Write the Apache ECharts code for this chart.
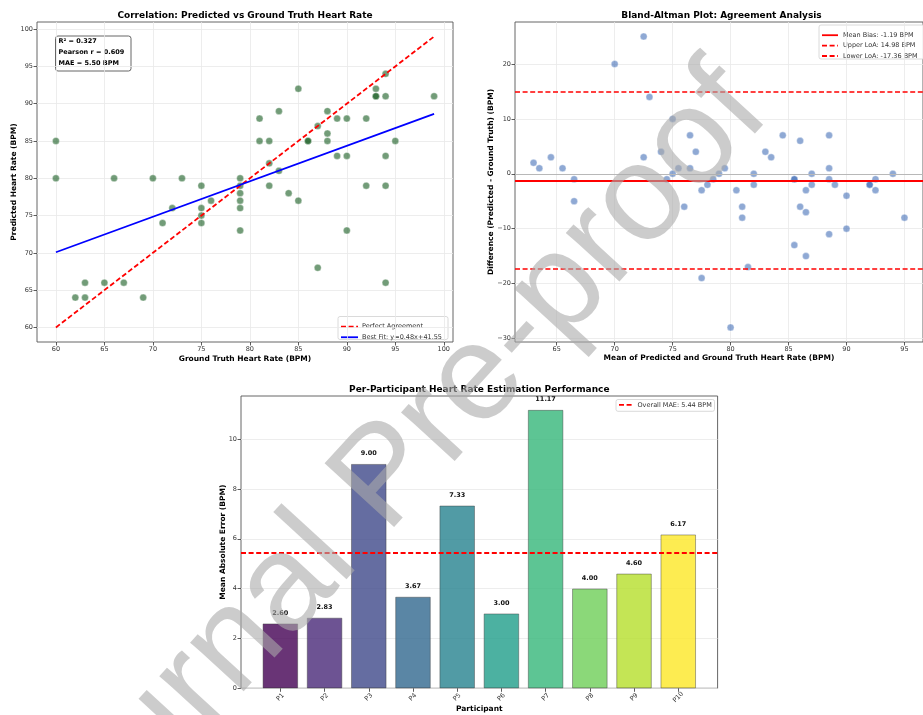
<!DOCTYPE html>
<html><head><meta charset="utf-8">
<script src="https://cdn.jsdelivr.net/npm/echarts@6/dist/echarts.min.js"></script>
<style>html,body{margin:0;padding:0;background:#fff}#c{width:923px;height:715px}</style>
</head><body><div id="c"></div>
<script>
// ---------------- data ----------------
const groundTruth = [60,60,66,70,73,79,85,81,81,82,82,83,83,86,86,87,88,88,88,89,89,90,90,92,93,93,93,94,94,94,95,99,75,79,79,79,79,79,72,71,75,75,75,76,82,84,85,92,94,90,87,94,62,63,63,65,67,69];
const predicted   = [85,80,80,80,80,80,92,88,85,85,82,89,81,85,85,87,89,86,85,88,83,88,83,88,92,91,91,94,91,83,85,91,79,79,78,77,76,73,76,74,76,75,74,77,79,78,77,79,79,73,68,66,64,66,64,66,66,64];
const fitSlope = 0.4756;
const fitIntercept = 41.55;
const fitRange = [60, 99];
const fitLabel = 'Best Fit: y=0.48x+41.55';
const statsLines = ['R\u00B2 = 0.327', 'Pearson r = 0.609', 'MAE = 5.50 BPM'];
const meanBias = -1.19;
const upperLoA = 14.98;
const lowerLoA = -17.36;
const participants = ['P1','P2','P3','P4','P5','P6','P7','P8','P9','P10'];
const participantMAE = [2.60, 2.83, 9.00, 3.67, 7.33, 3.00, 11.17, 4.00, 4.60, 6.17];
const overallMAE = 5.44;
const scatterTicks = [60,65,70,75,80,85,90,95,100];
const baXTicks = [65,70,75,80,85,90,95];
const baYTicks = [-30,-20,-10,0,10,20];
const barYTicks = [0,2,4,6,8,10];

// ---------------- styles ----------------
const FONT = 'DejaVu Sans';
const viridis = ['rgba(68,1,84,0.8)','rgba(72,40,120,0.8)','rgba(62,73,137,0.8)','rgba(49,104,142,0.8)','rgba(38,130,142,0.8)','rgba(31,158,137,0.8)','rgba(53,183,121,0.8)','rgba(110,206,88,0.8)','rgba(181,222,43,0.8)','rgba(253,231,37,0.8)'];
const DASH = [5, 2.6];

const baMean = groundTruth.map((g, i) => (g + predicted[i]) / 2);
const baDiff = groundTruth.map((g, i) => predicted[i] - g);

const G0 = {left: 37, top: 22, width: 416, height: 320};
const G1 = {left: 515, top: 22, width: 413, height: 320};
const G2 = {left: 241, top: 396, width: 476.6, height: 292.3};
const barRange = [-0.89, 9.89];

const minusFmt = v => String(v).replace('-', '\u2212');

function valAxis(gridIndex, min, max, ticks, extra) {
  return Object.assign({
    type: 'value', gridIndex, min, max,
    axisLine: {show: false, onZero: false},
    axisTick: {show: true, customValues: ticks, length: 3.5, lineStyle: {color: '#333', width: 0.8}},
    axisLabel: {customValues: ticks, fontSize: 6.5, color: '#333', fontFamily: FONT, margin: 4, formatter: minusFmt},
    splitLine: {show: true, lineStyle: {color: '#e8e8e8', width: 0.8}},
    nameLocation: 'middle',
    nameMoveOverlap: false,
    nameTextStyle: {fontWeight: 'bold', fontSize: 7.5, color: '#000', fontFamily: FONT}
  }, extra || {});
}

function legendGroup(x, y, w, h, items, rowH, lineLen, textGap) {
  const children = [{
    type: 'rect', shape: {x: x, y: y, width: w, height: h, r: 2},
    style: {fill: 'rgba(255,255,255,0.85)', stroke: '#d0d0d0', lineWidth: 0.8}
  }];
  items.forEach((it, i) => {
    const cy = y + 5.5 + rowH * i + rowH / 2 - 0.5;
    children.push({type: 'line', shape: {x1: x + 3, y1: cy, x2: x + 3 + lineLen, y2: cy},
      style: {stroke: it.color, lineWidth: 1.8, lineDash: it.dash ? DASH : null}});
    children.push({type: 'text', x: x + 3 + lineLen + textGap, y: cy,
      style: {text: it.text, fontSize: 6.5, fontFamily: FONT, fill: '#333', verticalAlign: 'middle', align: 'left'}});
  });
  return {type: 'group', children: children, z: 50};
}

function titleText(x, y, t) {
  return {type: 'text', x: x, y: y, z: 50,
    style: {text: t, fontSize: 9, fontWeight: 'bold', fontFamily: FONT, fill: '#000', align: 'center', verticalAlign: 'middle'}};
}

const chart = echarts.init(document.getElementById('c'), null, {renderer: 'canvas'});
const barUnit = G2.width / (barRange[1] - barRange[0]);

const option = {
  animation: false,
  backgroundColor: '#fff',
  grid: [
    Object.assign({show: true, borderColor: '#555', borderWidth: 0.9, containLabel: false}, G0),
    Object.assign({show: true, borderColor: '#555', borderWidth: 0.9, containLabel: false}, G1),
    Object.assign({show: true, borderColor: '#555', borderWidth: 0.9, containLabel: false}, G2)
  ],
  xAxis: [
    valAxis(0, 58.05, 100.95, scatterTicks, {name: 'Ground Truth Heart Rate (BPM)', nameGap: 13}),
    valAxis(1, 61.4, 96.6, baXTicks, {name: 'Mean of Predicted and Ground Truth Heart Rate (BPM)', nameGap: 12}),
    valAxis(2, barRange[0], barRange[1], [0,1,2,3,4,5,6,7,8,9], {
      name: 'Participant', nameGap: 17,
      splitLine: {show: false},
      axisLabel: {customValues: [0,1,2,3,4,5,6,7,8,9], formatter: v => participants[v], rotate: 45,
        align: 'center', verticalAlign: 'middle', margin: 9, fontSize: 6.5, color: '#333', fontFamily: FONT}
    })
  ],
  yAxis: [
    valAxis(0, 58.05, 100.95, scatterTicks, {name: 'Predicted Heart Rate (BPM)', nameGap: 19}),
    valAxis(1, -30.65, 27.65, baYTicks, {name: 'Difference (Predicted - Ground Truth) (BPM)', nameGap: 20}),
    valAxis(2, 0, 11.73, barYTicks, {name: 'Mean Absolute Error (BPM)', nameGap: 14})
  ],
  series: [
    {
      type: 'scatter', xAxisIndex: 0, yAxisIndex: 0, symbolSize: 7, z: 2,
      itemStyle: {color: 'rgba(20,90,30,0.75)', borderColor: 'rgba(255,255,255,0.9)', borderWidth: 0.5},
      data: groundTruth.map((g, i) => [g, predicted[i]])
    },
    {
      type: 'line', xAxisIndex: 0, yAxisIndex: 0, symbol: 'none', z: 3,
      lineStyle: {color: '#ff0000', width: 1.8, type: DASH},
      data: [[fitRange[0], fitRange[0]], [fitRange[1], fitRange[1]]]
    },
    {
      type: 'line', xAxisIndex: 0, yAxisIndex: 0, symbol: 'none', z: 3,
      lineStyle: {color: '#0000ff', width: 1.8},
      data: fitRange.map(x => [x, fitSlope * x + fitIntercept])
    },
    {
      type: 'scatter', xAxisIndex: 1, yAxisIndex: 1, symbolSize: 7, z: 2,
      itemStyle: {color: 'rgba(60,105,180,0.72)', borderColor: 'rgba(255,255,255,0.9)', borderWidth: 0.5},
      data: baMean.map((m, i) => [m, baDiff[i]]),
      markLine: {
        silent: true, symbol: ['none', 'none'], label: {show: false}, animation: false,
        data: [
          {yAxis: 0, lineStyle: {color: '#b8b8b8', width: 1, type: 'solid'}},
          {yAxis: meanBias, lineStyle: {color: '#ff0000', width: 1.8, type: 'solid'}},
          {yAxis: upperLoA, lineStyle: {color: '#ff0000', width: 1.5, type: DASH}},
          {yAxis: lowerLoA, lineStyle: {color: '#ff0000', width: 1.5, type: DASH}}
        ]
      }
    },
    {
      type: 'bar', xAxisIndex: 2, yAxisIndex: 2, barWidth: 0.8 * barUnit, z: 2,
      data: participantMAE.map((v, i) => ({value: [i, v], itemStyle: {color: viridis[i]}})),
      itemStyle: {borderColor: 'rgba(60,60,60,0.55)', borderWidth: 0.8},
      label: {show: true, position: 'top', distance: 7, fontSize: 6.5, fontWeight: 'bold', color: '#111', fontFamily: FONT,
        formatter: p => p.value[1].toFixed(2)},
      markLine: {
        silent: true, symbol: ['none', 'none'], label: {show: false}, animation: false,
        data: [{yAxis: overallMAE, lineStyle: {color: '#ff0000', width: 1.8, type: DASH}}]
      }
    }
  ],
  graphic: [
    titleText(245, 15.5, 'Correlation: Predicted vs Ground Truth Heart Rate'),
    titleText(721.5, 15.5, 'Bland-Altman Plot: Agreement Analysis'),
    titleText(479.3, 389.3, 'Per-Participant Heart Rate Estimation Performance'),
    {type: 'group', z: 50, children: [
      {type: 'rect', shape: {x: 55.5, y: 36, width: 75.5, height: 35, r: 2.5},
        style: {fill: 'rgba(255,255,255,0.85)', stroke: '#555', lineWidth: 0.9}},
      ...statsLines.map((t, i) => ({type: 'text', x: 58.5, y: 41.7 + i * 10.8,
        style: {text: t, fontSize: 6.5, fontWeight: 'bold', fontFamily: FONT, fill: '#000', verticalAlign: 'middle', align: 'left'}}))
    ]},
    legendGroup(338, 316.5, 110, 23, [
      {text: 'Perfect Agreement', color: '#ff0000', dash: true},
      {text: fitLabel, color: '#0000ff', dash: false}
    ], 10.5, 17, 4),
    legendGroup(819, 25, 110, 34, [
      {text: 'Mean Bias: ' + meanBias.toFixed(2) + ' BPM', color: '#ff0000', dash: false},
      {text: 'Upper LoA: ' + upperLoA.toFixed(2) + ' BPM', color: '#ff0000', dash: true},
      {text: 'Lower LoA: ' + lowerLoA.toFixed(2) + ' BPM', color: '#ff0000', dash: true}
    ], 10.4, 16, 5),
    legendGroup(616, 399.5, 98.5, 11.8, [
      {text: 'Overall MAE: ' + overallMAE.toFixed(2) + ' BPM', color: '#ff0000', dash: true}
    ], 0.8, 14, 4.5),
    {type: 'text', z: 100, x: 387, y: 479, rotation: 47.5 * Math.PI / 180, originX: 0, originY: 0,
      style: {text: 'Journal Pre-proof', fontSize: 137, fontFamily: 'Liberation Sans', fill: 'rgba(170,170,170,0.6)', align: 'center', verticalAlign: 'middle'}}
  ]
};
chart.setOption(option);
</script>
</body></html>
